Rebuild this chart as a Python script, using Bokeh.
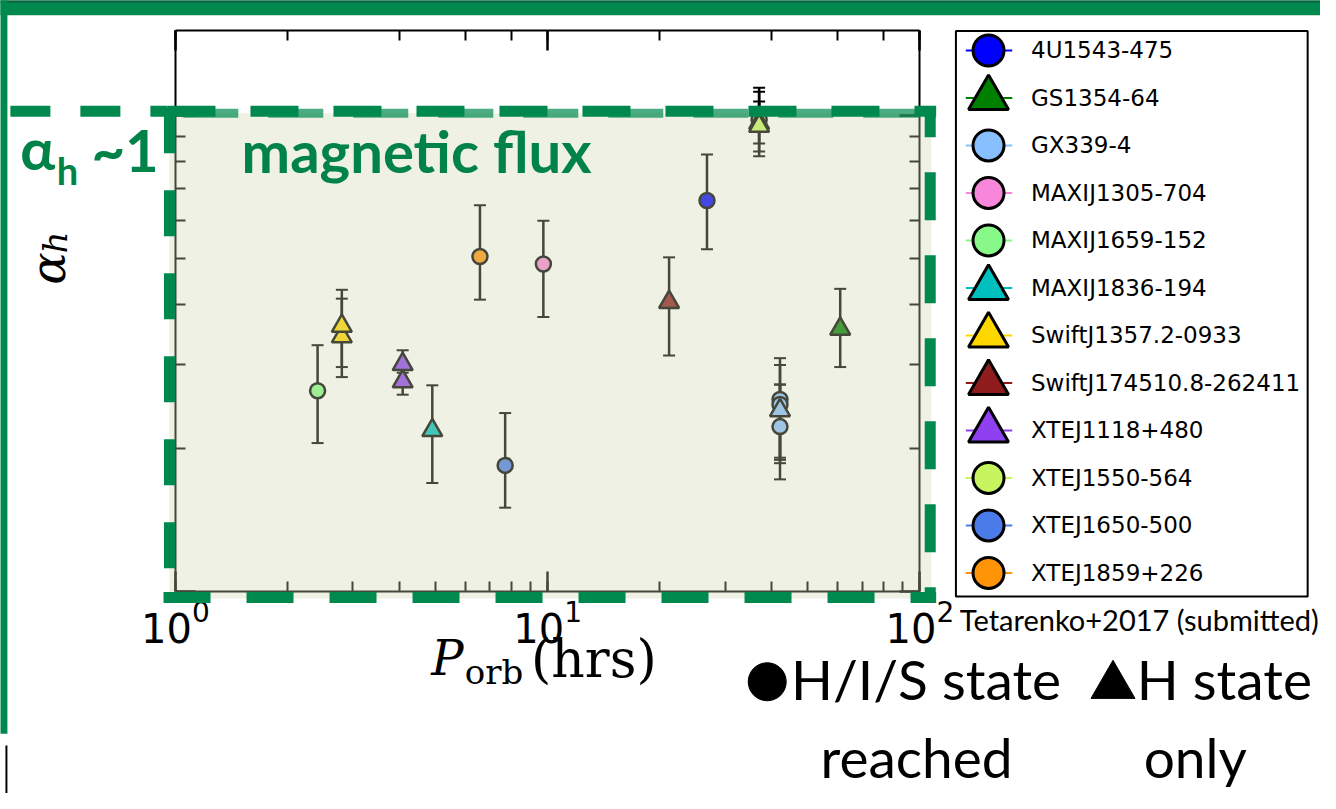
import math
from bokeh.plotting import figure
from bokeh.models import (Range1d, LinearScale, LogAxis, LogTicker, FixedTicker,
                          ColumnDataSource, Whisker, TeeHead, CustomJSTickFormatter)
from bokeh.core.properties import value
from bokeh.embed import file_html
from bokeh.resources import INLINE

# ---------------- data ----------------
SOURCES = ["4U1543-475", "GS1354-64", "GX339-4", "MAXIJ1305-704", "MAXIJ1659-152",
           "MAXIJ1836-194", "SwiftJ1357.2-0933", "SwiftJ174510.8-262411", "XTEJ1118+480",
           "XTEJ1550-564", "XTEJ1650-500", "XTEJ1859+226"]
COLORS = ["#0000FF", "#008000", "#87BFFF", "#F887DB", "#88F888", "#00BFBF",
          "#FFD700", "#8F1C1C", "#8F40F0", "#C6F55F", "#4A7BE8", "#FF9408"]
LEGEND_MARKERS = ["circle", "triangle", "circle", "circle", "circle", "triangle",
                  "triangle", "triangle", "triangle", "circle", "circle", "circle"]

PT_SOURCE = ["MAXIJ1659-152", "SwiftJ1357.2-0933", "SwiftJ1357.2-0933", "XTEJ1118+480",
             "XTEJ1118+480", "MAXIJ1836-194", "XTEJ1859+226", "XTEJ1650-500",
             "MAXIJ1305-704", "SwiftJ174510.8-262411", "4U1543-475", "XTEJ1550-564",
             "XTEJ1550-564", "XTEJ1550-564", "GX339-4", "GX339-4", "GX339-4", "GX339-4",
             "GS1354-64"]
PT_PERIOD = [2.41, 2.8, 2.8, 4.08, 4.08, 4.9, 6.58, 7.69, 9.74, 21.2, 26.8, 37.0, 37.0,
             37.0, 42.1, 42.1, 42.1, 42.1, 61.1]
PT_ALPHA = [0.264, 0.343, 0.361, 0.276, 0.300, 0.218, 0.505, 0.184, 0.487, 0.405, 0.662,
            0.977, 0.963, 0.949, 0.253, 0.247, 0.240, 0.222, 0.356]
PT_LO = [0.205, 0.282, 0.296, 0.259, 0.276, 0.169, 0.410, 0.150, 0.377, 0.313, 0.523,
         0.872, 0.839, 0.820, 0.191, 0.189, 0.186, 0.172, 0.296]
PT_HI = [0.329, 0.412, 0.430, 0.288, 0.321, 0.271, 0.647, 0.237, 0.600, 0.503, 0.827,
         1.069, 1.120, 1.142, 0.309, 0.299, 0.272, 0.272, 0.432]
PT_MARKER = ["circle", "triangle", "triangle", "triangle", "triangle", "triangle", "circle",
             "circle", "circle", "triangle", "circle", "circle", "triangle", "triangle",
             "circle", "circle", "triangle", "circle", "triangle"]

X_BOUNDS = (1, 100)
Y_LOW = 0.1
Y_MAJOR_TICKS = [0.1, 1.0]
Y_MINOR_TICKS = [0.2, 0.3, 0.4, 0.5, 0.6, 0.7, 0.8, 0.9]

# ---------------- layout (slide pixel geometry, 1336 x 809 units) ----------------
SLIDE_W, SLIDE_H = 1336, 809
W, H = 1320, 793
X_AT_1, X_AT_100 = 177, 930.5
Y_AT_LOW, PPD_Y = 603, 486
Y_FRAME_TOP = 31
PPD_X = (X_AT_100 - X_AT_1) / 2.0

def data_x(px):
    return 10 ** ((px - X_AT_1) / PPD_X)

def data_y(py):
    return Y_LOW * 10 ** ((Y_AT_LOW - py) / PPD_Y)

Y_TOP = data_y(Y_FRAME_TOP)

GREEN = "#00894F"
GREEN_TXT = "#008249"

p = figure(width=W, height=H, x_axis_type="log", y_axis_type="log",
           x_range=Range1d(data_x(0), data_x(SLIDE_W)),
           y_range=Range1d(data_y(SLIDE_H), data_y(0)),
           output_backend="svg", toolbar_location=None, min_border=0)
p.outline_line_color = None
p.grid.visible = False
p.background_fill_color = "white"
p.border_fill_color = "white"
p.extra_x_ranges = {"px": Range1d(0, SLIDE_W)}
p.extra_y_ranges = {"py": Range1d(SLIDE_H, 0)}
p.extra_x_scales = {"px": LinearScale()}
p.extra_y_scales = {"py": LinearScale()}

PX = dict(x_range_name="px", y_range_name="py")

# ---------------- axes ----------------
def style_axis(ax):
    ax.axis_line_color = "black"
    ax.axis_line_width = 2
    ax.major_tick_in = 20
    ax.major_tick_out = 0
    ax.minor_tick_in = 10
    ax.minor_tick_out = 0
    ax.major_tick_line_width = 2.5
    ax.minor_tick_line_width = 2
    ax.major_tick_line_color = "black"
    ax.minor_tick_line_color = "black"

xb = p.xaxis[0]
xb.fixed_location = Y_LOW
xb.bounds = X_BOUNDS
style_axis(xb)
xb.major_label_text_font = "DejaVu Sans"
xb.major_label_text_font_size = "40px"
xb.major_label_text_color = "black"
xb.major_label_standoff = 8

yl = p.yaxis[0]
yl.ticker = FixedTicker(ticks=Y_MAJOR_TICKS, minor_ticks=Y_MINOR_TICKS)
yl.fixed_location = X_BOUNDS[0]
yl.bounds = (Y_LOW, Y_TOP)
yl.formatter = CustomJSTickFormatter(code="return ''")
style_axis(yl)

xt = LogAxis(ticker=LogTicker(), formatter=CustomJSTickFormatter(code="return ''"),
             fixed_location=Y_TOP, bounds=X_BOUNDS)
style_axis(xt)
p.add_layout(xt, "above")

yr = LogAxis(ticker=FixedTicker(ticks=Y_MAJOR_TICKS, minor_ticks=Y_MINOR_TICKS),
             formatter=CustomJSTickFormatter(code="return ''"),
             fixed_location=X_BOUNDS[1], bounds=(Y_LOW, Y_TOP))
style_axis(yr)
p.add_layout(yr, "right")

# ---------------- data marks ----------------
pt_color = [COLORS[SOURCES.index(s)] for s in PT_SOURCE]
pt_size = [15 if m == "circle" else 20 for m in PT_MARKER]
src = ColumnDataSource(dict(x=PT_PERIOD, y=PT_ALPHA, lo=PT_LO, hi=PT_HI,
                            marker=PT_MARKER, color=pt_color, size=pt_size))

p.add_layout(Whisker(source=src, base="x", lower="lo", upper="hi", dimension="height",
                     line_color="black", line_width=2.5,
                     upper_head=TeeHead(size=12, line_width=2, line_color="black"),
                     lower_head=TeeHead(size=12, line_width=2, line_color="black")))
p.scatter("x", "y", source=src, marker="marker", size="size", fill_color="color",
          line_color="black", line_width=2.5)

# ---------------- slide decorations ----------------
p.quad(left=[171], right=[942], top=[115], bottom=[610],
       fill_color="#CCD5AE", fill_alpha=0.333, line_color=None, level="overlay", **PX)

p.quad(left=[0], right=[SLIDE_W], top=[0], bottom=[15], fill_color=GREEN,
       line_color=None, level="overlay", **PX)
p.quad(left=[0], right=[SLIDE_W], top=[0], bottom=[2], fill_color="#0B6340",
       line_color=None, level="overlay", **PX)
p.quad(left=[0], right=[7], top=[0], bottom=[748], fill_color=GREEN,
       line_color=None, level="overlay", **PX)
p.quad(left=[5], right=[7], top=[760], bottom=[SLIDE_H], fill_color="black",
       line_color=None, level="overlay", **PX)

def dline(xs, ys, dash, offset=0, width=11, alpha=1.0):
    p.line(xs, ys, line_color=GREEN, line_width=width, line_dash=dash,
           line_alpha=alpha, line_dash_offset=offset, level="overlay", **PX)

dline([185, 940], [115, 115], "55 30", width=9, alpha=0.7)
dline([10, 169], [113, 113], "40 30")
dline([169, 947], [113, 113], "48 35")
dline([171, 171], [109, 612], "46 37")
dline([941, 941], [113, 612], "48 35", 22)
dline([165, 947], [609, 609], "47 36")

def txt(x, y, s, size, font="Lato", style="normal", color="black", align="left",
        angle=0.0, level="overlay"):
    p.text(x=[x], y=[y], text=[s], text_font=value(font), text_font_style=style,
           text_font_size=size, text_color=color, text_align=align,
           text_baseline="middle", angle=angle, level=level, **PX)

txt(20, 150, "\u03b1", "58px", style="bold", color=GREEN_TXT)
txt(57, 173, "h", "38px", style="bold", color=GREEN_TXT)
txt(92, 152, "~1", "58px", style="bold", color=GREEN_TXT)
txt(244, 153, "magnetic flux", "58px", style="bold", color=GREEN_TXT)

# axis titles
txt(48, 290, "\u03b1", "48px", font="DejaVu Serif", style="italic",
    angle=math.pi / 2, level="glyph")
txt(55, 258, "h", "34px", font="DejaVu Serif", style="italic",
    angle=math.pi / 2, level="glyph")
txt(436, 671, "P", "48px", font="DejaVu Serif", style="italic", level="glyph")
txt(470, 685, "orb", "34px", font="DejaVu Serif", level="glyph")
txt(537, 672, "(hrs)", "52px", font="DejaVu Serif", level="glyph")

# ---------------- legend box ----------------
LEG_L, LEG_R, LEG_T, LEG_B = 967, 1323, 31, 608
ROW0, DROW = 51, 48.45
p.quad(left=[LEG_L], right=[LEG_R], top=[LEG_T], bottom=[LEG_B],
       fill_color="white", line_color="black", line_width=2, **PX)
rows_y = [ROW0 + DROW * i for i in range(len(SOURCES))]
n = len(SOURCES)
p.segment(x0=[977] * n, x1=[1024] * n, y0=rows_y, y1=rows_y,
          line_color=COLORS, line_width=2, **PX)
leg_src = ColumnDataSource(dict(x=[1000] * n, y=rows_y, marker=LEGEND_MARKERS,
                                color=COLORS,
                                size=[31 if m == "circle" else 40 for m in LEGEND_MARKERS]))
p.scatter("x", "y", source=leg_src, marker="marker", size="size", fill_color="color",
          line_color="black", line_width=3, **PX)
p.text(x=[1043] * n, y=rows_y, text=SOURCES, text_font=value("DejaVu Sans"),
       text_font_size="23px", text_color="black", text_baseline="middle", **PX)

txt(971, 631, "Tetarenko+2017 (submitted)", "29px", level="glyph")

# ---------------- marker-shape key ----------------
p.scatter(x=[776, 1126], y=[695, 699], marker=["circle", "triangle"],
          size=[38, 44], fill_color="black", line_color="black", **PX)
txt(800, 692, "H/I/S state", "55px", level="glyph")
txt(830, 772, "reached", "55px", level="glyph")
txt(1150, 692, "H state", "55px", level="glyph")
txt(1157, 772, "only", "55px", level="glyph")

open("out.html", "w").write(file_html(p, INLINE))
